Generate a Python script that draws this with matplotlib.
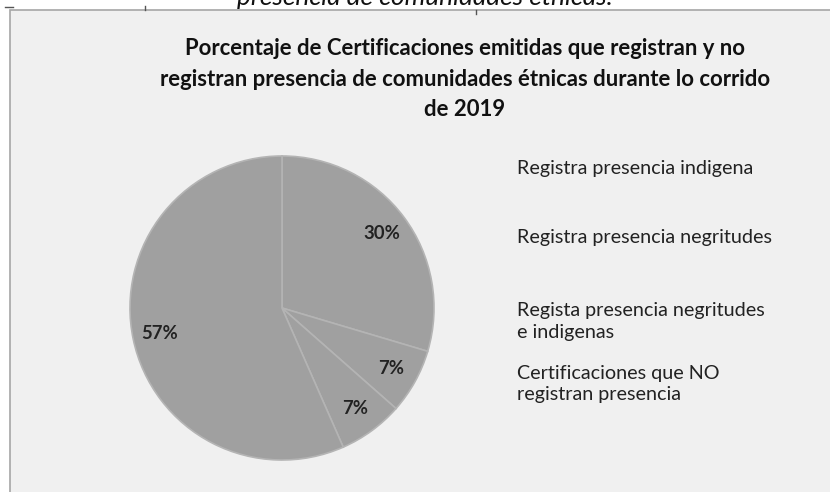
import matplotlib
matplotlib.use("Agg")
import numpy as np
import matplotlib.pyplot as plt
from matplotlib.patches import Rectangle
from matplotlib.lines import Line2D

# ---- data ----
categories = [
    "Registra presencia indigena",
    "Registra presencia negritudes",
    "Regista presencia negritudes\ne indigenas",
    "Certificaciones que NO\nregistran presencia",
]
values = [29.6, 6.9, 6.9, 56.6]
pct_labels = ["30%", "7%", "7%", "57%"]
title = ("Porcentaje de Certificaciones emitidas que registran y no\n"
         "registran presencia de comunidades étnicas durante lo corrido\n"
         "de 2019")
top_caption = "presencia de comunidades étnicas."

W, H = 830, 492
fig = plt.figure(figsize=(W / 100, H / 100), dpi=100, facecolor="white")

FONT = "Lato"

# chart area box
fig.patches.append(Rectangle((10 / W, -0.1), 1.2, (H - 10) / H + 0.1,
                             transform=fig.transFigure, facecolor="#f0f0f0",
                             edgecolor="#a6a6a6", linewidth=1.2, zorder=-5))
# small stray marks at the top
for x0, x1, y0, y1 in [(5, 13, 7, 7), (145, 145, 6, 10), (476, 476, 10, 14)]:
    fig.add_artist(Line2D([x0 / W, x1 / W], [1 - y0 / H, 1 - y1 / H],
                          transform=fig.transFigure, color="#555555", lw=1))

# cut-off caption at top
fig.text(425 / W, 1 - 5 / H, top_caption, ha="center", va="baseline",
         fontsize=18.9, style="italic", family=FONT, color="#111111")

# title
fig.text(465 / W, 1 - 79 / H, title, ha="center", va="center",
         fontsize=15.9, fontweight="bold", family=FONT, color="#111111",
         linespacing=1.57)

# pie
cx, cy, r = 282, 308, 152
ax = fig.add_axes([(cx - r) / W, (H - cy - r) / H, 2 * r / W, 2 * r / H],
                  zorder=3)
wedges, texts = ax.pie(values, startangle=90, counterclock=False,
                       colors=["#a0a0a0"] * 4,
                       wedgeprops=dict(edgecolor="#b4b4b4", linewidth=1.2))
for w, lab in zip(wedges, pct_labels):
    ang = np.deg2rad((w.theta1 + w.theta2) / 2)
    ax.text(0.82 * np.cos(ang), 0.82 * np.sin(ang), lab, ha="center",
            va="center", fontsize=13.3, fontweight="bold", family=FONT,
            color="#222222")
ax.set_xlim(-1, 1)
ax.set_ylim(-1, 1)
ax.set_aspect("equal")
ax.axis("off")

# legend-like labels (no visible keys)
leg_y = [168, 237, 321.5, 384]
for lab, y in zip(categories, leg_y):
    fig.text(517 / W, 1 - y / H, lab, ha="left", va="center", fontsize=14.2,
             family=FONT, color="#222222", linespacing=1.3)

fig.savefig("out.png", dpi=100, facecolor="white")
